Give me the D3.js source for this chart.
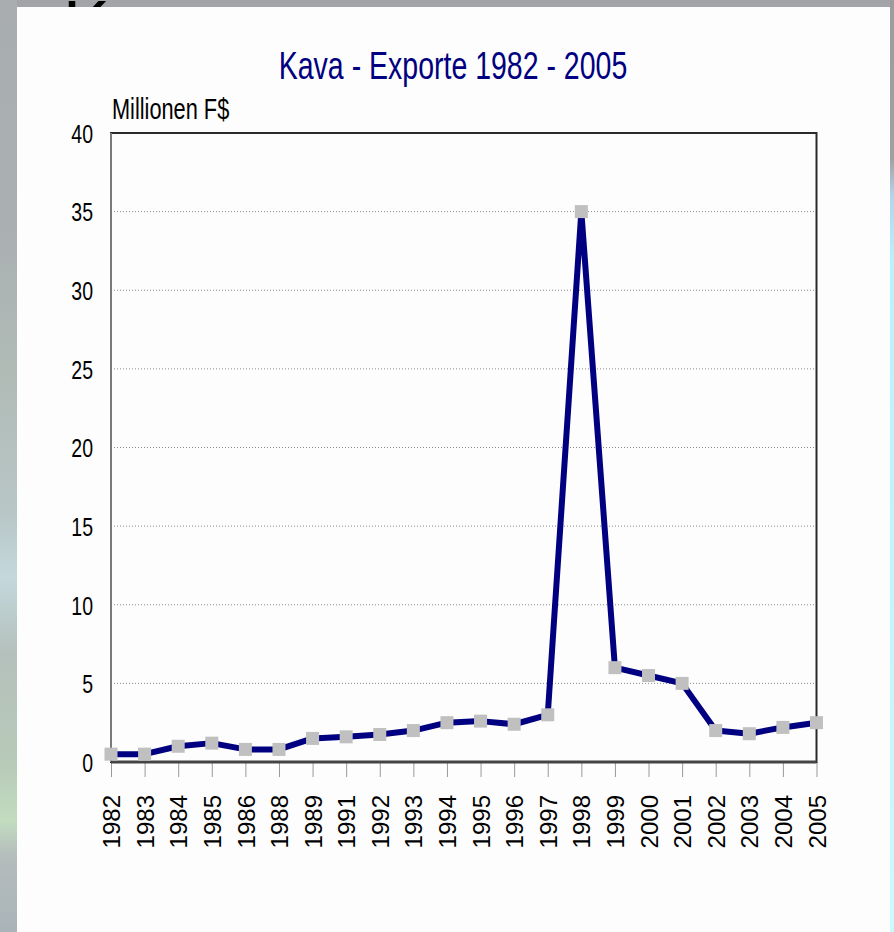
<!DOCTYPE html>
<html>
<head>
<meta charset="utf-8">
<script src="https://cdn.jsdelivr.net/npm/d3@7"></script>
<style>
body{margin:0;background:#a3a6a9;}
svg{display:block;font-family:"Liberation Sans",Arial,sans-serif;}
</style>
</head>
<body>
<div id="chart"></div>
<script>
// values (Mio. F$)
var years = ["1982","1983","1984","1985","1986","1988","1989","1991","1992","1993","1994",
             "1995","1996","1997","1998","1999","2000","2001","2002","2003","2004","2005"];
var exportValues = [0.5,0.5,1.0,1.2,0.8,0.8,1.5,1.6,1.75,2.0,2.5,
                    2.6,2.4,3.0,35,6.0,5.5,5.0,2.0,1.8,2.2,2.5];
var yTicks = [0,5,10,15,20,25,30,35,40];
var chartTitle = "Kava - Exporte 1982 - 2005";
var unitLabel = "Millionen F$";
var slideTitle = "Kava";

var w = 894;
var h = 932;
var panel = {left:17, top:7, right:890};
var plot = {left:111, right:816.5, top:133, bottom:762};
var squeeze = 0.75; // narrow font look

var svg = d3.select("#chart")
  .append("svg")
  .attr("width", w)
  .attr("height", h);

// slide background
var defs = svg.append("defs");
var leftGrad = defs.append("linearGradient").attr("id","leftGrad")
  .attr("x1",0).attr("y1",0).attr("x2",0).attr("y2",1);
[["0%","#a9adb0"],["25%","#aab0b2"],["40%","#b0bbb6"],["55%","#b8c6c6"],["62%","#c4d8dc"],
 ["70%","#b4c0bc"],["82%","#b8cab8"],["88%","#c2dcc0"],["92%","#b4bcbc"],["100%","#aab4b8"]]
 .forEach(function(s){ leftGrad.append("stop").attr("offset",s[0]).attr("stop-color",s[1]); });
var rightGrad = defs.append("linearGradient").attr("id","rightGrad")
  .attr("x1",0).attr("y1",0).attr("x2",0).attr("y2",1);
[["0%","#9c9c9e"],["17%","#a0a0a2"],["21%","#b4d4e8"],["28%","#b8f2fb"],["100%","#c8fcfd"]]
 .forEach(function(s){ rightGrad.append("stop").attr("offset",s[0]).attr("stop-color",s[1]); });

svg.append("rect").attr("x",0).attr("y",0).attr("width",w).attr("height",h).attr("fill","#a2a4a7");
svg.append("rect").attr("x",0).attr("y",0).attr("width",panel.left).attr("height",h).attr("fill","url(#leftGrad)");
svg.append("rect").attr("x",panel.right).attr("y",0).attr("width",w-panel.right).attr("height",h).attr("fill","url(#rightGrad)");

svg.append("text")
  .text(slideTitle)
  .attr("x", 63)
  .attr("y", 50)
  .attr("font-size", 70)
  .attr("fill", "#000");

svg.append("rect")
  .attr("x", panel.left)
  .attr("y", panel.top)
  .attr("width", panel.right - panel.left)
  .attr("height", h - panel.top)
  .attr("fill", "#fdfdfd");

var xScale = d3.scalePoint()
  .domain(years)
  .range([plot.left, plot.right]);
var yScale = d3.scaleLinear()
  .domain([0, 40])
  .range([plot.bottom, plot.top]);

// dotted grid
svg.append("g")
  .selectAll("line")
  .data(yTicks.filter(function(d){ return d > 0 && d < 40; }))
  .enter()
  .append("line")
  .attr("x1", plot.left)
  .attr("x2", plot.right)
  .attr("y1", function(d){ return yScale(d); })
  .attr("y2", function(d){ return yScale(d); })
  .attr("stroke", "#8a8a8a")
  .attr("stroke-width", 1)
  .attr("stroke-dasharray", "1,2");

// x axis
var xAxis = d3.axisBottom(xScale).tickSize(15);
var gx = svg.append("g")
  .attr("transform", "translate(0," + plot.bottom + ")")
  .call(xAxis);
gx.select(".domain").remove();
gx.selectAll(".tick line").attr("stroke", "#999");
gx.selectAll("text")
  .attr("transform", "rotate(-90)")
  .attr("x", -33)
  .attr("y", 0)
  .attr("dy", "0.36em")
  .attr("text-anchor", "end")
  .attr("font-size", 24)
  .attr("font-family", "Liberation Sans, Arial, sans-serif")
  .attr("fill", "#000");

// y axis
var yAxis = d3.axisLeft(yScale).tickValues(yTicks).tickSize(0);
var gy = svg.append("g")
  .attr("transform", "translate(" + plot.left + ",0)")
  .call(yAxis);
gy.select(".domain").remove();
gy.selectAll("text")
  .attr("transform", "scale(" + squeeze + ",1)")
  .attr("x", -18 / squeeze)
  .attr("dy", "0.36em")
  .attr("font-size", 26)
  .attr("font-family", "Liberation Sans, Arial, sans-serif")
  .attr("fill", "#000");

// plot frame
svg.append("rect")
  .attr("x", plot.left)
  .attr("y", plot.top)
  .attr("width", plot.right - plot.left)
  .attr("height", plot.bottom - plot.top)
  .attr("fill", "none")
  .attr("stroke", "#2a2a2a")
  .attr("stroke-width", 2);
svg.append("line")
  .attr("x1", plot.left).attr("x2", plot.left)
  .attr("y1", plot.top).attr("y2", plot.bottom)
  .attr("stroke", "#7a7a7a")
  .attr("stroke-width", 2);
svg.append("line")
  .attr("x1", plot.left).attr("x2", plot.right)
  .attr("y1", plot.bottom).attr("y2", plot.bottom)
  .attr("stroke", "#444")
  .attr("stroke-width", 3);

// series
var line = d3.line()
  .x(function(d, i){ return xScale(years[i]); })
  .y(function(d){ return yScale(d); });

svg.append("path")
  .datum(exportValues)
  .attr("d", line)
  .attr("fill", "none")
  .attr("stroke", "#000080")
  .attr("stroke-width", 6)
  .attr("stroke-linejoin", "round");

var ms = 13;
svg.append("g")
  .selectAll("rect")
  .data(exportValues)
  .enter()
  .append("rect")
  .attr("x", function(d, i){ return xScale(years[i]) - ms/2; })
  .attr("y", function(d){ return yScale(d) - ms/2; })
  .attr("width", ms)
  .attr("height", ms)
  .attr("fill", "#c0c0c0");

// titles
svg.append("text")
  .text(chartTitle)
  .attr("transform", "translate(453,79) scale(" + squeeze + ",1)")
  .attr("text-anchor", "middle")
  .attr("font-size", 38)
  .attr("fill", "#000080");

svg.append("text")
  .text(unitLabel)
  .attr("transform", "translate(112,119) scale(" + squeeze + ",1)")
  .attr("font-size", 29)
  .attr("fill", "#000");
</script>
</body>
</html>
